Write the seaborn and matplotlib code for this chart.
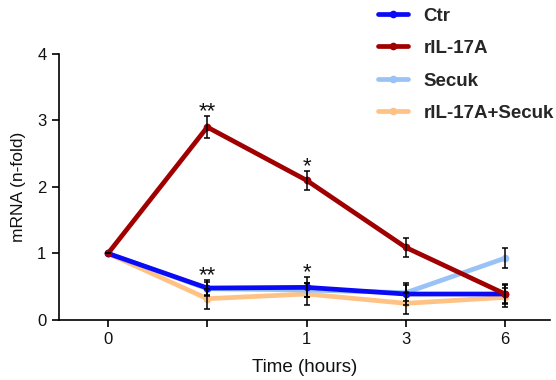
import numpy as np
import pandas as pd
import matplotlib
matplotlib.use("Agg")
import matplotlib.pyplot as plt
import seaborn as sns
from matplotlib.lines import Line2D

# ---- data ----
time_labels = ["0", "", "1", "3", "6"]
series_names = ["Ctr", "rIL-17A", "Secuk", "rIL-17A+Secuk"]
ctr = [1.0, 0.48, 0.49, 0.39, 0.39]
ctr_err = [0.0, 0.12, 0.15, 0.17, 0.15]
ril = [1.0, 2.90, 2.10, 1.09, 0.39]
ril_err = [0.0, 0.16, 0.14, 0.15, 0.14]
secuk = [1.0, 0.47, 0.45, 0.41, 0.93]
secuk_err = [0.0, 0.10, 0.10, 0.12, 0.155]
combo = [1.0, 0.32, 0.39, 0.25, 0.34]
combo_err = [0.0, 0.15, 0.16, 0.16, 0.14]
stars_ril = ["", "**", "*", "", ""]
stars_ctr = ["", "**", "*", "", ""]

colors = {"Ctr": "#0A0AF5", "rIL-17A": "#A00000",
          "Secuk": "#99C3F7", "rIL-17A+Secuk": "#FFC285"}

values = {"Ctr": ctr, "rIL-17A": ril, "Secuk": secuk, "rIL-17A+Secuk": combo}
errors = {"Ctr": ctr_err, "rIL-17A": ril_err, "Secuk": secuk_err, "rIL-17A+Secuk": combo_err}

rows = []
for name in series_names:
    for i, v in enumerate(values[name]):
        rows.append({"pos": i, "value": v, "group": name})
df = pd.DataFrame(rows)

sns.set_theme(style="ticks")
plt.rcParams["font.family"] = ["Liberation Sans", "DejaVu Sans"]

fig = plt.figure(figsize=(5.56, 3.8), dpi=100)
ax = fig.add_axes([0.106, 0.158, 0.883, 0.700])

draw_order = ["rIL-17A+Secuk", "Secuk", "Ctr", "rIL-17A"]
for z, name in enumerate(draw_order):
    sub = df[df["group"] == name]
    sns.lineplot(data=sub, x="pos", y="value", color=colors[name], lw=3.4,
                 marker="o", markersize=5.5, markeredgewidth=0,
                 ax=ax, zorder=3 + z, legend=False)
    ax.errorbar(sub["pos"], sub["value"], yerr=errors[name], fmt="none",
                ecolor="black", elinewidth=1.1, capsize=2, capthick=1.1,
                zorder=10)

def star(i, top, s):
    ax.annotate(s, xy=(i, top), xytext=(0, -0.8), textcoords="offset points",
                ha="center", va="baseline", fontsize=16, color="#111111",
                zorder=12)

for i, s in enumerate(stars_ril):
    if s:
        star(i, ril[i] + ril_err[i], s)
for i, s in enumerate(stars_ctr):
    if s:
        top = max(ctr[i] + ctr_err[i], secuk[i] + secuk_err[i])
        star(i, top, s)

ax.set_xlim(-0.494, 4.45)
ax.set_ylim(0, 4)
ax.set_xticks(range(len(time_labels)))
ax.set_xticklabels(time_labels)
ax.set_yticks([0, 1, 2, 3, 4])
ax.tick_params(axis="both", direction="out", length=5, width=1.2,
               labelsize=12, color="black", labelcolor="#111111", pad=4)
for sp in ["top", "right"]:
    ax.spines[sp].set_visible(False)
for sp in ["left", "bottom"]:
    ax.spines[sp].set_linewidth(1.2)
    ax.spines[sp].set_color("black")
ax.set_xlabel("Time (hours)", fontsize=13.5, color="#111111", labelpad=8)
ax.set_ylabel("mRNA (n-fold)", fontsize=12.5, color="#111111", labelpad=8)

handles = [Line2D([0], [0], color=colors[n], lw=3.4, marker="o", markersize=5.5,
                  markeredgewidth=0) for n in series_names]
leg = fig.legend(handles, series_names, loc="upper left",
                 bbox_to_anchor=(0.649, 1.025), frameon=False,
                 prop={"weight": "bold", "size": 13.5}, handlelength=1.6,
                 handletextpad=0.85, labelspacing=0.82)

fig.savefig("out.png", dpi=100)
